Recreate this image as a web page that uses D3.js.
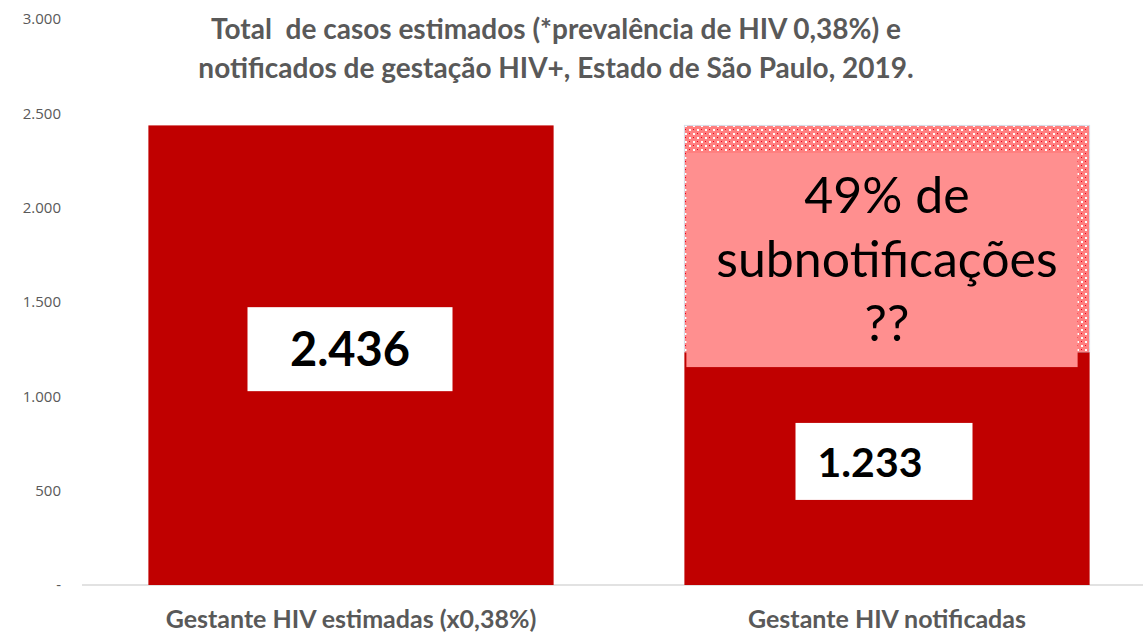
<!DOCTYPE html>
<html>
<head>
<meta charset="utf-8">
<script src="https://cdn.jsdelivr.net/npm/d3@7"></script>
<style>
  body { margin: 0; background: #fff; }
  svg { display: block; }
</style>
</head>
<body>
<div id="chart"></div>
<script>
// data
const categories = ["Gestante HIV estimadas (x0,38%)", "Gestante HIV notificadas"]
const notified = [2436, 1233]
const estimated = [2436, 2436]
const valueLabels = ["2.436", "1.233"]
const labelAnchors = [1250, 655]   // label box centres, in data units
const yTicks = [0, 500, 1000, 1500, 2000, 2500, 3000]
const titleLines = ["Total  de casos estimados (*prevalência de HIV 0,38%) e",
                    "notificados de gestação HIV+, Estado de São Paulo, 2019."]
const noteLines = ["49% de", "subnotificações", "??"]
const noteRange = [1155, 2290]

const width = 1143, height = 633
const margin = ({top: 19, right: -12, bottom: 48, left: 83})

const svg = d3.select("#chart").append("svg")
    .attr("width", width)
    .attr("height", height)

const defs = svg.append("defs")
const pat = defs.append("pattern")
    .attr("id", "dots")
    .attr("patternUnits", "userSpaceOnUse")
    .attr("width", 8).attr("height", 8)
pat.append("rect").attr("width", 8).attr("height", 8).attr("fill", "#ff7f7f")
pat.append("rect").attr("x", 1).attr("y", 1).attr("width", 2).attr("height", 2).attr("fill", "#fff")
pat.append("rect").attr("x", 5).attr("y", 5).attr("width", 2).attr("height", 2).attr("fill", "#fff")
pat.append("rect").attr("x", 5).attr("y", 1).attr("width", 1).attr("height", 1).attr("fill", "#e8001c")
pat.append("rect").attr("x", 1).attr("y", 5).attr("width", 1).attr("height", 1).attr("fill", "#e8001c")

const xScale = d3.scaleBand()
    .domain(categories)
    .range([margin.left, width - margin.right])
    .paddingInner(0.244)
    .paddingOuter(0.122)

const yScale = d3.scaleLinear()
    .domain([0, 3000])
    .range([height - margin.bottom, margin.top])

const ptBR = d3.formatLocale({decimal: ",", thousands: ".", grouping: [3], currency: ["R$", ""]})
const fmt = ptBR.format(",d")

// y axis (labels only, Excel accounting style: zero shown as "-")
const yAxis = d3.axisLeft(yScale)
    .tickValues(yTicks)
    .tickSize(0)
    .tickPadding(0)
    .tickFormat(d => d === 0 ? "-" : fmt(d))

svg.append("g")
    .attr("class", "axis y-axis")
    .attr("transform", "translate(61,0)")
    .call(yAxis)
    .call(g => g.select(".domain").remove())
    .selectAll("text")
    .attr("font-family", "'Open Sans', sans-serif")
    .attr("font-size", 15)
    .attr("fill", "#595959")

// baseline
svg.append("line")
    .attr("x1", margin.left - 1).attr("x2", width)
    .attr("y1", yScale(0)).attr("y2", yScale(0))
    .attr("stroke", "#d9d9d9")
    .attr("stroke-width", 1.5)

// hatched "estimated" remainder on the notified bar
svg.append("rect")
    .attr("x", xScale(categories[1]))
    .attr("y", yScale(estimated[1]))
    .attr("width", xScale.bandwidth())
    .attr("height", yScale(notified[1]) - yScale(estimated[1]))
    .attr("fill", "url(#dots)")
    .attr("stroke", "#d5dde8")
    .attr("stroke-width", 1)

// bars
svg.selectAll(".bar")
    .data(categories)
    .enter()
    .append("rect")
    .attr("class", "bar")
    .attr("x", d => xScale(d))
    .attr("y", (d, i) => yScale(notified[i]))
    .attr("width", xScale.bandwidth())
    .attr("height", (d, i) => yScale(0) - yScale(notified[i]))
    .attr("fill", "#c00000")

// pink note box
const nx = xScale(categories[1]) + 2
const nw = xScale.bandwidth() - 14
svg.append("rect")
    .attr("x", nx)
    .attr("y", yScale(noteRange[1]))
    .attr("width", nw)
    .attr("height", yScale(noteRange[0]) - yScale(noteRange[1]))
    .attr("fill", "#ff8f8f")

svg.append("g")
    .selectAll("text")
    .data(noteLines)
    .enter()
    .append("text")
    .attr("x", nx + nw / 2 + 5)
    .attr("y", (d, i) => yScale(noteRange[1]) + 60 + i * 64)
    .attr("text-anchor", "middle")
    .attr("font-family", "Lato, sans-serif")
    .attr("font-size", 50)
    .attr("fill", "#000")
    .text(d => d)

// value label boxes
const boxW = [205, 177], boxH = [84, 77]
const lbl = svg.selectAll(".lbl")
    .data(categories)
    .enter()
    .append("g")
    .attr("class", "lbl")
    .attr("transform", (d, i) => `translate(${xScale(d) + xScale.bandwidth() / 2 - (i ? 3 : 1)},${yScale(labelAnchors[i])})`)

lbl.append("rect")
    .attr("x", (d, i) => -boxW[i] / 2)
    .attr("y", (d, i) => -boxH[i] / 2)
    .attr("width", (d, i) => boxW[i])
    .attr("height", (d, i) => boxH[i])
    .attr("fill", "#fff")

lbl.append("text")
    .attr("x", (d, i) => i ? -14 : 0)
    .attr("y", (d, i) => i ? 16 : 17)
    .attr("text-anchor", "middle")
    .attr("font-family", "Lato, sans-serif")
    .attr("font-weight", "bold")
    .attr("font-size", (d, i) => i ? 41 : 47)
    .attr("fill", "#000")
    .text((d, i) => valueLabels[i])

// category labels
svg.append("g")
    .selectAll("text")
    .data(categories)
    .enter()
    .append("text")
    .attr("x", d => xScale(d) + xScale.bandwidth() / 2)
    .attr("y", 628)
    .attr("text-anchor", "middle")
    .attr("font-family", "Lato, sans-serif")
    .attr("font-weight", "bold")
    .attr("font-size", 25)
    .attr("fill", "#595959")
    .text(d => d)

// title
svg.append("g")
    .selectAll("text")
    .data(titleLines)
    .enter()
    .append("text")
    .attr("x", 556)
    .attr("y", (d, i) => 39 + i * 39)
    .attr("text-anchor", "middle")
    .attr("font-family", "Lato, sans-serif")
    .attr("font-weight", "bold")
    .attr("font-size", 28)
    .attr("fill", "#595959")
    .style("white-space", "pre")
    .text(d => d)
</script>
</body>
</html>
